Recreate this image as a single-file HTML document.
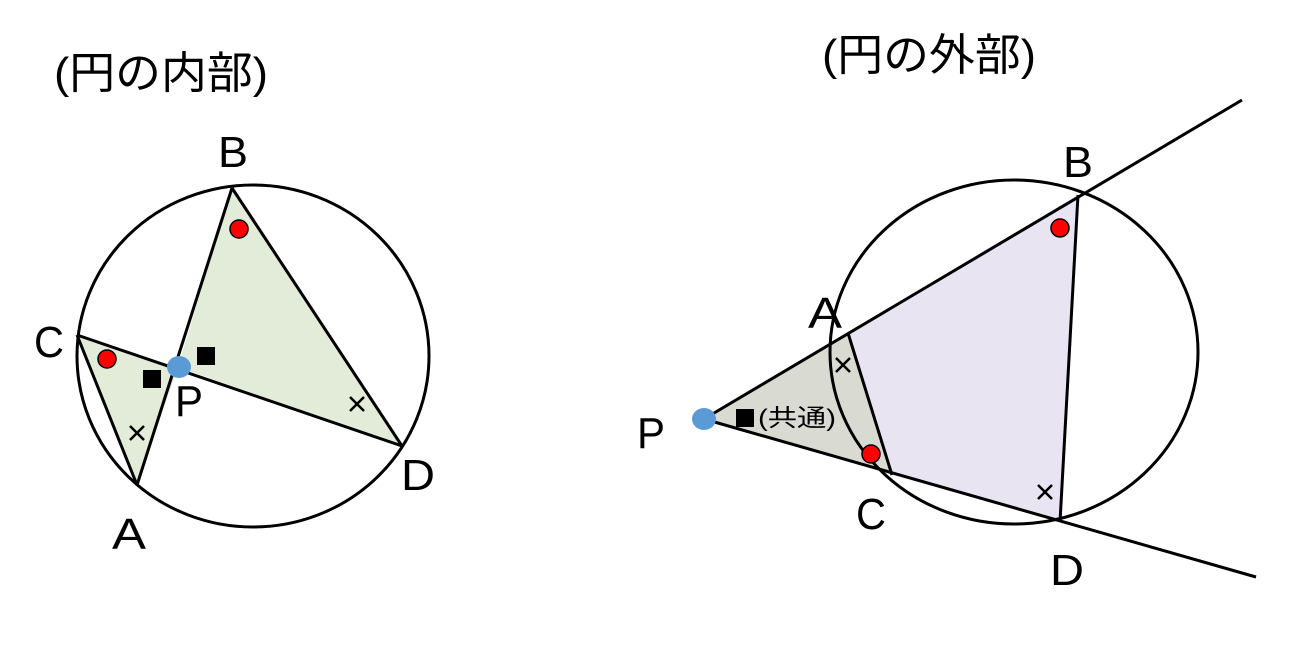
<!DOCTYPE html>
<html><head><meta charset="utf-8"><style>
body{margin:0;background:#fff;width:1296px;height:645px;overflow:hidden}
svg text{font-family:"Liberation Sans","Noto Sans CJK JP",sans-serif;fill:#000}
</style></head><body>
<svg width="1296" height="645" viewBox="0 0 1296 645" xmlns="http://www.w3.org/2000/svg">
<!-- left -->
<polygon points="77,335 137,485 178,367" fill="#e2ecd9"/>
<polygon points="232,188 178,367 402,446" fill="#e2ecd9"/>
<ellipse cx="253" cy="356" rx="176" ry="171" fill="none" stroke="#000" stroke-width="3"/>
<g stroke="#000" stroke-width="3" fill="none">
<line x1="232" y1="188" x2="137" y2="485"/>
<line x1="77" y1="335" x2="402" y2="446"/>
<line x1="77" y1="335" x2="137" y2="485"/>
<line x1="232" y1="188" x2="402" y2="446"/>
<path d="M130,426 l14,14 M144,426 l-14,14" stroke-width="2.5"/>
<path d="M350,397 l14,14 M364,397 l-14,14" stroke-width="2.5"/>
</g>
<circle cx="107" cy="359" r="9" fill="#f00" stroke="#000" stroke-width="1.5"/>
<circle cx="239" cy="229" r="9" fill="#f00" stroke="#000" stroke-width="1.5"/>
<rect x="143" y="370" width="18" height="18" fill="#000"/>
<rect x="197" y="347" width="18" height="18" fill="#000"/>
<ellipse cx="179" cy="367" rx="12" ry="11" fill="#5b9bd5"/>
<text x="54" y="88" font-size="44" textLength="214" lengthAdjust="spacingAndGlyphs">(円の内部)</text>
<text x="218" y="167" font-size="44" textLength="30" lengthAdjust="spacingAndGlyphs">B</text>
<text x="34" y="357" font-size="44" textLength="30" lengthAdjust="spacingAndGlyphs">C</text>
<text x="175" y="416" font-size="44" textLength="28" lengthAdjust="spacingAndGlyphs">P</text>
<text x="112" y="549" font-size="44" textLength="34" lengthAdjust="spacingAndGlyphs">A</text>
<text x="401" y="490" font-size="44" textLength="34" lengthAdjust="spacingAndGlyphs">D</text>
<!-- right -->
<polygon points="704,419 848,333 892,475" fill="#d9dbd3"/>
<polygon points="848,333 1078,195 1060,522 892,475" fill="#e9e4f2"/>
<ellipse cx="1014" cy="352" rx="184" ry="172" fill="none" stroke="#000" stroke-width="3"/>
<g stroke="#000" stroke-width="3" fill="none">
<line x1="704" y1="419" x2="1242" y2="100"/>
<line x1="704" y1="419" x2="1256" y2="577"/>
<line x1="848" y1="333" x2="892" y2="475"/>
<line x1="1078" y1="195" x2="1060" y2="522"/>
<path d="M836,358 l14,14 M850,358 l-14,14" stroke-width="2.5"/>
<path d="M1038,485 l14,14 M1052,485 l-14,14" stroke-width="2.5"/>
</g>
<circle cx="871" cy="454" r="9" fill="#f00" stroke="#000" stroke-width="1.5"/>
<circle cx="1060" cy="228" r="9" fill="#f00" stroke="#000" stroke-width="1.5"/>
<rect x="736" y="409" width="18" height="18" fill="#000"/>
<ellipse cx="704" cy="419" rx="12" ry="11" fill="#5b9bd5"/>
<text x="758" y="426" font-size="24" textLength="78" lengthAdjust="spacingAndGlyphs">(共通)</text>
<text x="822" y="70" font-size="44" textLength="214" lengthAdjust="spacingAndGlyphs">(円の外部)</text>
<text x="1063" y="177" font-size="44" textLength="30" lengthAdjust="spacingAndGlyphs">B</text>
<text x="808" y="328" font-size="44" textLength="34" lengthAdjust="spacingAndGlyphs">A</text>
<text x="637" y="448" font-size="44" textLength="28" lengthAdjust="spacingAndGlyphs">P</text>
<text x="856" y="529" font-size="44" textLength="30" lengthAdjust="spacingAndGlyphs">C</text>
<text x="1050" y="585" font-size="44" textLength="34" lengthAdjust="spacingAndGlyphs">D</text>
</svg>
</body></html>
